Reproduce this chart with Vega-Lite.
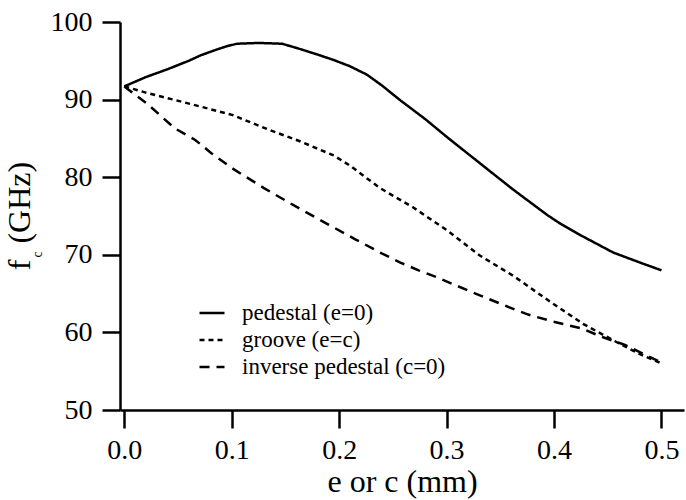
{
  "$schema": "https://vega.github.io/schema/vega-lite/v6.json",
  "width": 564,
  "height": 388,
  "autosize": {"type": "none"},
  "padding": {"left": 120, "top": 22, "right": 2, "bottom": 90},
  "background": "white",
  "config": {
    "view": {"stroke": null},
    "font": "Liberation Serif",
    "axis": {
      "domainColor": "black",
      "domainWidth": 2.5,
      "tickColor": "black",
      "tickWidth": 2.5,
      "tickSize": 18,
      "labelColor": "black",
      "labelFont": "Liberation Serif",
      "labelFontSize": 28,
      "titleColor": "black",
      "titleFont": "Liberation Serif",
      "titleFontWeight": "normal",
      "grid": false
    }
  },
  "title": {
    "text": "f\u00a0\u00a0(GHz)",
    "subtitle": "c\u00a0\u00a0\u00a0\u00a0\u00a0\u00a0\u00a0\u00a0\u00a0\u00a0\u00a0\u00a0\u00a0\u00a0\u00a0\u00a0\u00a0\u00a0\u00a0\u00a0\u00a0\u00a0\u200b",
    "orient": "left",
    "anchor": "middle",
    "font": "Liberation Serif",
    "fontSize": 32,
    "fontWeight": "normal",
    "color": "black",
    "subtitleFont": "Liberation Serif",
    "subtitleFontSize": 14,
    "subtitleColor": "black",
    "subtitlePadding": -6,
    "offset": 4
  },
  "data": {
    "values": [
      {"x": 0.0, "f": 91.7, "series": "pedestal (e=0)"},
      {"x": 0.02, "f": 92.9, "series": "pedestal (e=0)"},
      {"x": 0.04, "f": 93.9, "series": "pedestal (e=0)"},
      {"x": 0.06, "f": 95.0, "series": "pedestal (e=0)"},
      {"x": 0.071, "f": 95.7, "series": "pedestal (e=0)"},
      {"x": 0.085, "f": 96.4, "series": "pedestal (e=0)"},
      {"x": 0.096, "f": 96.9, "series": "pedestal (e=0)"},
      {"x": 0.105, "f": 97.2, "series": "pedestal (e=0)"},
      {"x": 0.125, "f": 97.3, "series": "pedestal (e=0)"},
      {"x": 0.147, "f": 97.2, "series": "pedestal (e=0)"},
      {"x": 0.164, "f": 96.5, "series": "pedestal (e=0)"},
      {"x": 0.18, "f": 95.8, "series": "pedestal (e=0)"},
      {"x": 0.195, "f": 95.1, "series": "pedestal (e=0)"},
      {"x": 0.21, "f": 94.3, "series": "pedestal (e=0)"},
      {"x": 0.226, "f": 93.2, "series": "pedestal (e=0)"},
      {"x": 0.24, "f": 91.8, "series": "pedestal (e=0)"},
      {"x": 0.257, "f": 89.9, "series": "pedestal (e=0)"},
      {"x": 0.28, "f": 87.5, "series": "pedestal (e=0)"},
      {"x": 0.301, "f": 85.1, "series": "pedestal (e=0)"},
      {"x": 0.331, "f": 81.8, "series": "pedestal (e=0)"},
      {"x": 0.362, "f": 78.4, "series": "pedestal (e=0)"},
      {"x": 0.394, "f": 75.1, "series": "pedestal (e=0)"},
      {"x": 0.406, "f": 74.0, "series": "pedestal (e=0)"},
      {"x": 0.425, "f": 72.5, "series": "pedestal (e=0)"},
      {"x": 0.455, "f": 70.3, "series": "pedestal (e=0)"},
      {"x": 0.48, "f": 69.0, "series": "pedestal (e=0)"},
      {"x": 0.5, "f": 68.0, "series": "pedestal (e=0)"},

      {"x": 0.0, "f": 91.7, "series": "groove (e=c)"},
      {"x": 0.02, "f": 90.9, "series": "groove (e=c)"},
      {"x": 0.04, "f": 90.2, "series": "groove (e=c)"},
      {"x": 0.071, "f": 89.1, "series": "groove (e=c)"},
      {"x": 0.101, "f": 88.0, "series": "groove (e=c)"},
      {"x": 0.133, "f": 86.2, "series": "groove (e=c)"},
      {"x": 0.164, "f": 84.6, "series": "groove (e=c)"},
      {"x": 0.195, "f": 82.8, "series": "groove (e=c)"},
      {"x": 0.21, "f": 81.5, "series": "groove (e=c)"},
      {"x": 0.238, "f": 78.6, "series": "groove (e=c)"},
      {"x": 0.269, "f": 76.1, "series": "groove (e=c)"},
      {"x": 0.301, "f": 73.1, "series": "groove (e=c)"},
      {"x": 0.331, "f": 69.9, "series": "groove (e=c)"},
      {"x": 0.362, "f": 67.3, "series": "groove (e=c)"},
      {"x": 0.397, "f": 63.9, "series": "groove (e=c)"},
      {"x": 0.427, "f": 61.1, "series": "groove (e=c)"},
      {"x": 0.459, "f": 58.7, "series": "groove (e=c)"},
      {"x": 0.48, "f": 57.2, "series": "groove (e=c)"},
      {"x": 0.5, "f": 56.0, "series": "groove (e=c)"},

      {"x": 0.0, "f": 91.7, "series": "inverse pedestal (c=0)"},
      {"x": 0.021, "f": 89.5, "series": "inverse pedestal (c=0)"},
      {"x": 0.047, "f": 86.3, "series": "inverse pedestal (c=0)"},
      {"x": 0.066, "f": 84.8, "series": "inverse pedestal (c=0)"},
      {"x": 0.081, "f": 83.1, "series": "inverse pedestal (c=0)"},
      {"x": 0.101, "f": 81.1, "series": "inverse pedestal (c=0)"},
      {"x": 0.13, "f": 78.6, "series": "inverse pedestal (c=0)"},
      {"x": 0.16, "f": 76.2, "series": "inverse pedestal (c=0)"},
      {"x": 0.19, "f": 73.9, "series": "inverse pedestal (c=0)"},
      {"x": 0.215, "f": 72.0, "series": "inverse pedestal (c=0)"},
      {"x": 0.238, "f": 70.3, "series": "inverse pedestal (c=0)"},
      {"x": 0.257, "f": 69.0, "series": "inverse pedestal (c=0)"},
      {"x": 0.274, "f": 68.0, "series": "inverse pedestal (c=0)"},
      {"x": 0.291, "f": 67.1, "series": "inverse pedestal (c=0)"},
      {"x": 0.308, "f": 66.1, "series": "inverse pedestal (c=0)"},
      {"x": 0.334, "f": 64.6, "series": "inverse pedestal (c=0)"},
      {"x": 0.359, "f": 63.2, "series": "inverse pedestal (c=0)"},
      {"x": 0.376, "f": 62.3, "series": "inverse pedestal (c=0)"},
      {"x": 0.399, "f": 61.4, "series": "inverse pedestal (c=0)"},
      {"x": 0.426, "f": 60.5, "series": "inverse pedestal (c=0)"},
      {"x": 0.445, "f": 59.4, "series": "inverse pedestal (c=0)"},
      {"x": 0.466, "f": 58.4, "series": "inverse pedestal (c=0)"},
      {"x": 0.5, "f": 56.1, "series": "inverse pedestal (c=0)"}
    ]
  },
  "mark": {"type": "line", "color": "black", "strokeWidth": 2.5},
  "encoding": {
    "x": {
      "field": "x",
      "type": "quantitative",
      "scale": {"domain": [-0.004, 0.521], "nice": false, "zero": false},
      "axis": {
        "values": [0, 0.1, 0.2, 0.3, 0.4, 0.5],
        "format": ".1f",
        "labelPadding": 8,
        "title": "e or c (mm)",
        "titleFontSize": 32,
        "titlePadding": 2
      }
    },
    "y": {
      "field": "f",
      "type": "quantitative",
      "scale": {"domain": [50, 100], "nice": false, "zero": false},
      "axis": {
        "values": [50, 60, 70, 80, 90, 100],
        "labelPadding": 10,
        "title": null
      }
    },
    "strokeDash": {
      "field": "series",
      "type": "nominal",
      "scale": {
        "domain": ["pedestal (e=0)", "groove (e=c)", "inverse pedestal (c=0)"],
        "range": [[1, 0], [5, 4], [10, 7]]
      },
      "legend": {
        "orient": "none",
        "legendX": 78,
        "legendY": 277,
        "title": null,
        "padding": 0,
        "symbolType": "stroke",
        "symbolSize": 625,
        "symbolStrokeColor": "black",
        "symbolStrokeWidth": 2.5,
        "labelFont": "Liberation Serif",
        "labelFontSize": 23,
        "labelColor": "black",
        "labelLimit": 0,
        "labelOffset": 16,
        "rowPadding": 1
      }
    }
  }
}
